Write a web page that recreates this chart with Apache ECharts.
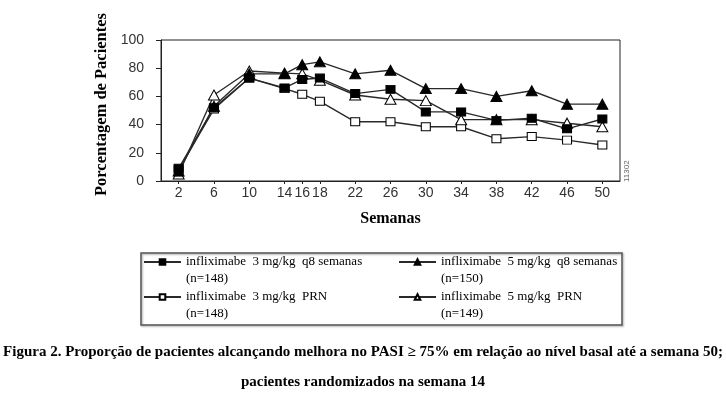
<!DOCTYPE html>
<html>
<head>
<meta charset="utf-8">
<script src="https://cdn.jsdelivr.net/npm/echarts@6/dist/echarts.min.js"></script>
<style>
  html, body { margin: 0; padding: 0; background: #fff; }
  #chart { width: 726px; height: 396px; }
</style>
</head>
<body>
<div id="chart"></div>
<script>
// semanas
const weeks = [2, 6, 10, 14, 16, 18, 22, 26, 30, 34, 38, 42, 46, 50];

// porcentagem de pacientes por grupo
const q8_3mg = [9, 52, 73, 66, 72, 73, 62, 65, 49, 49, 43, 44.5, 37, 44];
const q8_5mg = [7, 53, 76, 76, 82.5, 84.5, 76, 78.5, 65.5, 65.5, 60, 64, 54.5, 54.5];
const prn_3mg = [8, 51, 73, 65.5, 61.5, 56.5, 42, 42, 38.5, 38.5, 30, 31.5, 29, 25.5];
const prn_5mg = [5, 61, 78, 76.5, 76, 71.5, 61, 58, 57, 43.5, 43.5, 43.5, 41, 38.5];

const names = [
    'infliximabe  3 mg/kg  q8 semanas',
    'infliximabe  5 mg/kg  q8 semanas',
    'infliximabe  3 mg/kg  PRN',
    'infliximabe  5 mg/kg  PRN'
];
const nCount = ['(n=148)', '(n=150)', '(n=148)', '(n=149)'];

const pairs = (vals) => weeks.map((w, i) => [w, vals[i]]);

var chartDom = document.getElementById('chart');
var myChart = echarts.init(chartDom);

const lineColor = '#2a2a2a';
const serif = '"Liberation Serif", "Times New Roman", serif';
const sans = '"Liberation Sans", Arial, sans-serif';

const mkSeries = (name, data, symbol, filled, size) => ({
    name: name,
    type: 'line',
    data: pairs(data),
    symbol: symbol,
    symbolSize: size,
    showSymbol: true,
    lineStyle: { color: lineColor, width: 1.4 },
    itemStyle: {
        color: filled ? '#000' : '#fff',
        borderColor: '#000',
        borderWidth: 1
    },
    emphasis: { disabled: true },
    animation: false
});

// legenda: uma por item, para posicionar como no quadro
// linha vazia em cima -> o nome fica na altura do ícone
const legendPos = [[143, 262], [398, 262], [143, 297], [398, 297]];
const legends = names.map((n, i) => ({
    data: [n],
    left: legendPos[i][0],
    top: legendPos[i][1] - 25.5,
    padding: 0,
    itemWidth: 37,
    itemHeight: 7,
    formatter: (name) => '\n' + name + '\n' + nCount[i],
    textStyle: {
        fontFamily: serif,
        fontSize: 13,
        color: '#000',
        lineHeight: 17
    },
    selectedMode: false
}));

const option = {
    backgroundColor: '#fff',
    animation: false,
    title: {
        text: 'Figura 2. Proporção de pacientes alcançando melhora no PASI ≥ 75% em relação ao nível basal até a semana 50;\npacientes randomizados na semana 14',
        left: 'center',
        top: 332,
        textStyle: {
            fontFamily: serif,
            fontSize: 15,
            fontWeight: 'bold',
            color: '#000',
            lineHeight: 30
        }
    },
    legend: legends,
    grid: {
        left: 161,
        top: 40,
        right: 106,
        bottom: 215,
        show: true,
        borderColor: '#222',
        borderWidth: 1
    },
    xAxis: {
        type: 'value',
        min: 0,
        max: 52,
        name: 'Semanas',
        nameLocation: 'middle',
        nameGap: 30,
        nameTextStyle: { fontFamily: serif, fontSize: 16, fontWeight: 'bold', color: '#000' },
        splitLine: { show: false },
        axisLine: { lineStyle: { color: '#222' } },
        axisTick: { customValues: weeks, length: 3, lineStyle: { color: '#222' } },
        axisLabel: {
            customValues: weeks,
            fontFamily: sans,
            fontSize: 14,
            color: '#333',
            margin: 5
        }
    },
    yAxis: {
        type: 'value',
        min: 0,
        max: 100,
        interval: 20,
        name: 'Porcentagem de Pacientes',
        nameLocation: 'middle',
        nameGap: 51,
        nameTextStyle: {
            fontFamily: serif, fontSize: 16.5, fontWeight: 'bold', color: '#000',
            padding: [0, 0, 0, 12]
        },
        splitLine: { show: false },
        axisLine: { show: true, lineStyle: { color: '#222' } },
        axisTick: { show: true, length: 5, lineStyle: { color: '#222' } },
        axisLabel: { fontFamily: sans, fontSize: 14, color: '#333', margin: 17 }
    },
    graphic: [
        {
            type: 'rect',
            shape: { x: 141, y: 253, width: 481, height: 72 },
            style: {
                fill: 'none',
                stroke: '#555',
                lineWidth: 1.5,
                shadowColor: 'rgba(0,0,0,0.35)',
                shadowBlur: 2,
                shadowOffsetX: 1,
                shadowOffsetY: 1
            },
            silent: true
        },
        {
            type: 'text',
            x: 623,
            y: 182,
            rotation: Math.PI / 2,
            style: {
                text: '11302',
                fontFamily: sans,
                fontSize: 8,
                fill: '#666',
                textAlign: 'left',
                textVerticalAlign: 'top'
            },
            silent: true
        }
    ],
    series: [
        mkSeries(names[2], prn_3mg, 'rect', false, [9, 8]),
        mkSeries(names[3], prn_5mg, 'triangle', false, [11, 10]),
        mkSeries(names[0], q8_3mg, 'rect', true, [9, 8]),
        mkSeries(names[1], q8_5mg, 'triangle', true, [11, 10])
    ]
};
myChart.setOption(option);
</script>
</body>
</html>
